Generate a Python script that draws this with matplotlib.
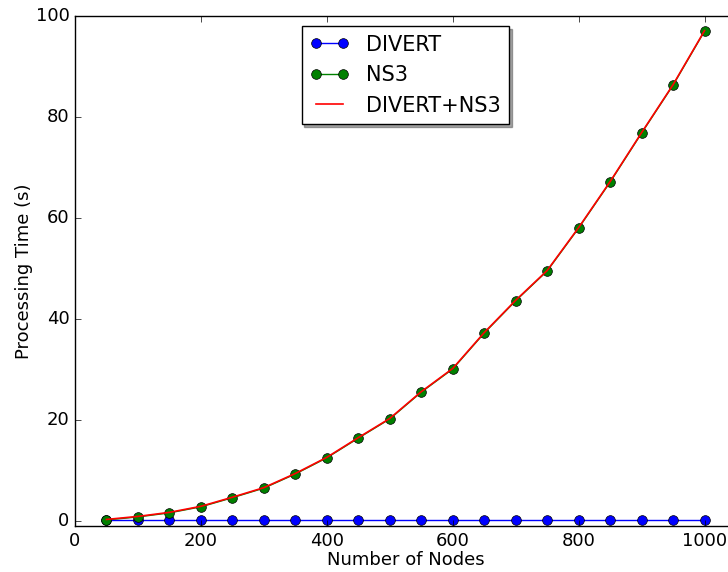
import numpy as np
import matplotlib
matplotlib.use("Agg")
import matplotlib.pyplot as plt

plt.style.use("classic")

nodes = [50, 100, 150, 200, 250, 300, 350, 400, 450, 500,
         550, 600, 650, 700, 750, 800, 850, 900, 950, 1000]
divert = [0.1] * 20
ns3 = [0.2, 0.8, 1.6, 2.8, 4.6, 6.5, 9.3, 12.5, 16.4, 20.2,
       25.5, 30.1, 37.2, 43.6, 49.5, 58.0, 67.1, 76.8, 86.3, 97.0]
combined = [d + n for d, n in zip(divert, ns3)]

fig = plt.figure(figsize=(7.28, 5.72), dpi=100)
fig.patch.set_facecolor("white")
ax = fig.add_axes([75 / 728, 46 / 572, 661 / 728, 510 / 572])

ax.plot(nodes, divert, "b-o", markersize=7, label="DIVERT")
ax.plot(nodes, ns3, "g-o", markersize=7, label="NS3")
ax.plot(nodes, combined, "r-", linewidth=1.2, label="DIVERT+NS3")

ax.set_xlim(0, 1050)
ax.set_ylim(-1, 100)
ax.set_xticks([0, 200, 400, 600, 800, 1000])
ax.set_xlabel("Number of Nodes", fontsize=13, labelpad=1)
ax.set_ylabel("Processing Time (s)", fontsize=13, labelpad=2)
ax.tick_params(labelsize=13)

ax.legend(loc="upper center", bbox_to_anchor=(0.5, 1.0), shadow=True,
          fontsize=15, numpoints=2, handlelength=1.9)

fig.savefig("out.png", dpi=100)
